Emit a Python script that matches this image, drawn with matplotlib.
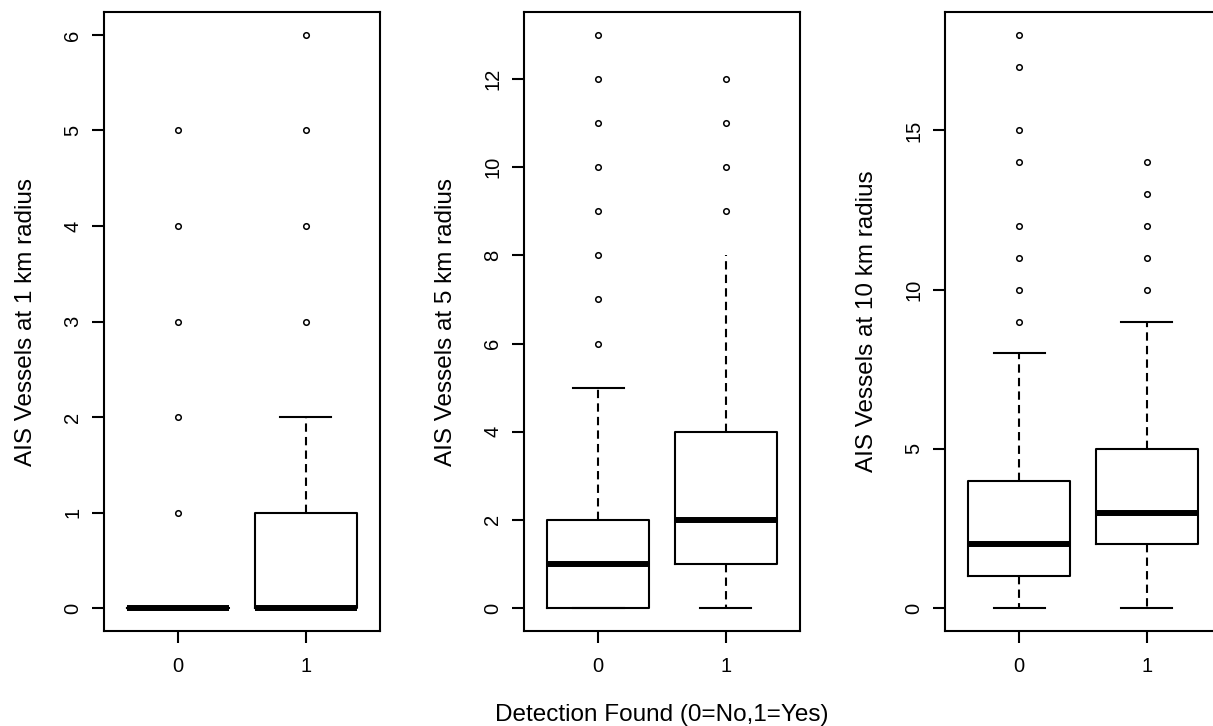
import numpy as np
import matplotlib.pyplot as plt

plt.rcParams['font.family'] = ['Liberation Sans', 'DejaVu Sans']

# groups on the x axis (detection found)
group_labels = ["0", "1"]

# AIS vessels within 1 km
q1_1km = [0, 0]
med_1km = [0, 0]
q3_1km = [0, 1]
whislo_1km = [0, 0]
whishi_1km = [0, 2]
fliers_1km = [[1, 2, 3, 4, 5], [3, 4, 5, 6]]

# AIS vessels within 5 km
q1_5km = [0, 1]
med_5km = [1, 2]
q3_5km = [2, 4]
whislo_5km = [0, 0]
whishi_5km = [5, 8]
fliers_5km = [[6, 7, 8, 9, 10, 11, 12, 13], [9, 10, 11, 12]]

# AIS vessels within 10 km
q1_10km = [1, 2]
med_10km = [2, 3]
q3_10km = [4, 5]
whislo_10km = [0, 0]
whishi_10km = [8, 9]
fliers_10km = [[9, 10, 11, 12, 14, 15, 17, 18], [10, 11, 12, 13, 14]]

panels = [
    ("AIS Vessels at 1 km radius", q1_1km, med_1km, q3_1km, whislo_1km, whishi_1km, fliers_1km, np.arange(0, 7, 1)),
    ("AIS Vessels at 5 km radius", q1_5km, med_5km, q3_5km, whislo_5km, whishi_5km, fliers_5km, np.arange(0, 13, 2)),
    ("AIS Vessels at 10 km radius", q1_10km, med_10km, q3_10km, whislo_10km, whishi_10km, fliers_10km, np.arange(0, 16, 5)),
]

W, H = 1213, 726
fig = plt.figure(figsize=(W / 100, H / 100), dpi=100)
lefts = [104, 524, 945]
ax_w, top, bottom = 276, 12, 631

axes = []
for left, (ylab, q1, med, q3, lo, hi, fl, yt) in zip(lefts, panels):
    ax = fig.add_axes([left / W, (H - bottom) / H, ax_w / W, (bottom - top) / H])
    stats = []
    for i in range(2):
        stats.append(dict(q1=q1[i], med=med[i], q3=q3[i], whislo=lo[i], whishi=hi[i], fliers=fl[i]))
    parts = ax.bxp(stats, positions=[1, 2], widths=0.8, capwidths=0.4,
                   boxprops=dict(color="black", linewidth=1.5),
                   medianprops=dict(color="black", linewidth=4.3, solid_capstyle="butt"),
                   whiskerprops=dict(color="black", linewidth=1.5, linestyle=(0, (4, 2.5))),
                   capprops=dict(color="black", linewidth=1.5),
                   flierprops=dict(marker="o", markersize=4, markerfacecolor="none",
                                   markeredgecolor="black", markeredgewidth=1.1))
    ymax = max(max(f) for f in fl)
    ax.set_ylim(-0.04 * ymax, 1.04 * ymax)
    ax.set_xlim(0.42, 2.58)
    ax.set_xticks([1, 2])
    ax.set_xticklabels(group_labels)
    ax.set_yticks(yt)
    ax.set_yticklabels([str(v) for v in yt], rotation=90, va="center")
    ax.tick_params(axis="both", length=8.5, width=1.5, labelsize=14.5, direction="out")
    ax.tick_params(axis="x", pad=10)
    ax.tick_params(axis="y", pad=7)
    for sp in ax.spines.values():
        sp.set_linewidth(1.5)
    ax.set_ylabel(ylab, fontsize=17.5)
    ax.yaxis.set_label_coords(-0.243, 0.5)
    axes.append((ax, parts))

# the upper staple of the 5 km "1" box does not show in the original
axes[1][1]["caps"][3].set_visible(False)

axes[1][0].set_xlabel("Detection Found (0=No,1=Yes)", fontsize=17.5)
axes[1][0].xaxis.set_label_coords(0.5, -0.118)

fig.savefig("out.png", dpi=100)
